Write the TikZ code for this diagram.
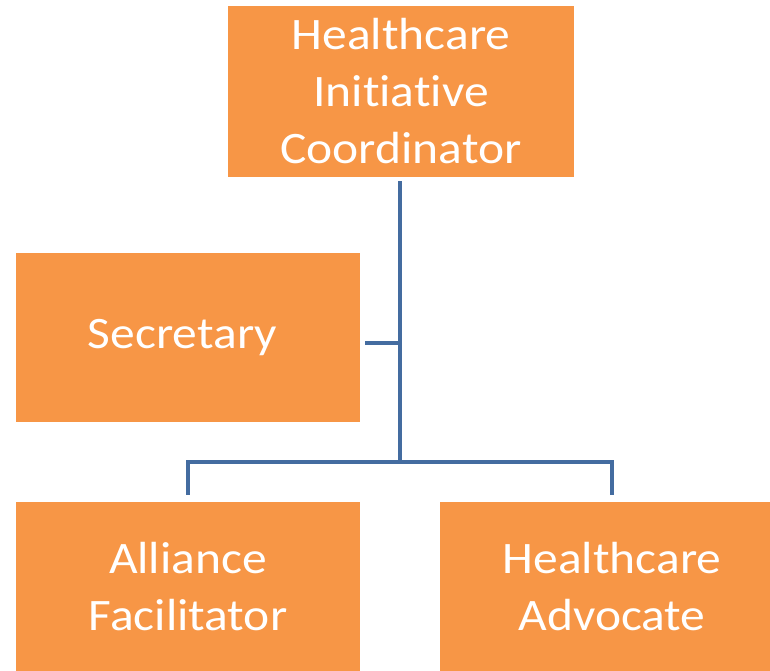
\documentclass[tikz,border=0pt]{standalone}
\usepackage{fontspec}
\setmainfont{Carlito}
\newfontfamily\rolefont[FakeStretch=1.1, Ligatures=NoCommon]{Carlito}
\usetikzlibrary{
  positioning,
  calc}
\definecolor{boxcolor}{RGB}{247,150,70}
\definecolor{linecolor}{RGB}{68,108,160}
\tikzset{
  %% role : one position in the chart
  role/.style={
    rectangle,
    fill=boxcolor,
    text=white,
    minimum width=344pt,
    minimum height=170pt,
    inner sep=0pt,
    font=\rolefont\fontsize{45}{57}\selectfont,
    align=center
  },
  %% connector : line between the positions
  connector/.style={
    linecolor,
    line width=4.5pt
  }
}
\begin{document}
\begin{tikzpicture}
  [x=1pt,
  y=-1pt,
  align=center]

  \useasboundingbox (0, 0) rectangle (770, 670);
  \clip (0, 0) rectangle (770, 670);

  %% Positions
  \node (coordinator) [role, minimum width=346pt, minimum height=171pt]
  at (401, 91.5) {%
    Healthcare\\
    Initiative\\
    Coordinator
  };

  \node (secretary) [role, minimum height=169pt] at (188, 337.5) {%
    Secretary
  };

  \node (alliance) [role] at (188, 587) {%
    Alliance\\
    Facilitator
  };

  \node (advocate) [role] at (612, 587) {%
    Healthcare\\
    Advocate
  };

  %% Connections
  \coordinate (hub) at (400, 462);
  \coordinate (sechub) at (400, 343);
  \draw [connector] ([yshift=-4pt]coordinator.south -| hub) -- (hub);
  \draw [connector] ([xshift=5pt]secretary.east |- sechub) -- (sechub);
  \draw [connector] (hub) -| ([yshift=7pt]alliance.north);
  \draw [connector] (hub) -| ([yshift=7pt]advocate.north);

\end{tikzpicture}
\end{document}
